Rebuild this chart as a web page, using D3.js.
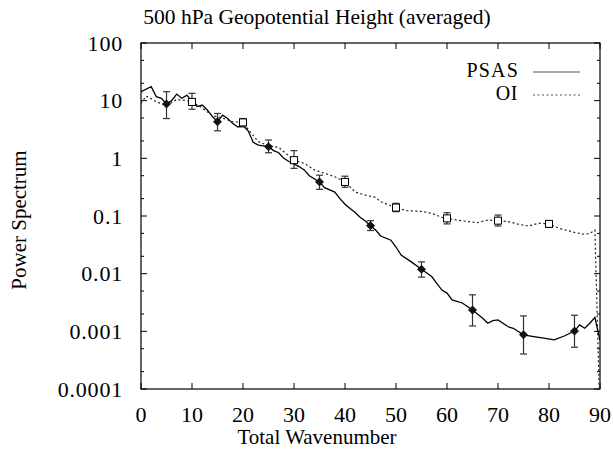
<!DOCTYPE html>
<html>
<head>
<meta charset="utf-8">
<script src="https://cdn.jsdelivr.net/npm/d3@7"></script>
<style>
  body { margin: 0; background: #fff; }
  svg { display: block; }
  text { font-family: "Liberation Serif", "Times New Roman", "DejaVu Serif", serif; fill: #000; }
</style>
</head>
<body>
<svg id="chart" width="613" height="453" font-family="Liberation Serif, Times New Roman, serif"></svg>
<script>
// PSAS spectrum (solid line)
const psasK = [0, 2, 3, 4, 5, 6, 7, 8, 9, 10, 11, 12, 13, 14, 15, 16, 17, 18, 19, 20,
  21, 22, 23, 25, 26, 27, 28, 29, 31, 32, 33, 35, 36, 38, 39, 40, 41, 42, 43, 44, 45,
  46, 47, 49, 50, 51, 53, 55, 57, 58, 59, 60, 61, 63, 64, 65, 67, 68, 69, 70, 72,
  73, 75, 77, 79, 81, 83, 85, 86, 87, 88, 89, 90];
const psasV = [14.3, 17.5, 11.7, 11, 8.75, 10, 13, 11, 12.5, 9.6, 7.9, 8.4, 6.9, 5.3, 4.3, 5.6, 4.9, 4.0, 3.5, 3.7,
  3.0, 1.9, 1.7, 1.59, 1.36, 1.25, 1.0, 0.88, 0.72, 0.63, 0.5, 0.39, 0.31, 0.26, 0.2, 0.16, 0.135, 0.115, 0.094, 0.082, 0.068,
  0.057, 0.045, 0.038, 0.029, 0.021, 0.016, 0.0119, 0.0089, 0.0068, 0.0052, 0.0046, 0.0035, 0.0031, 0.0027, 0.00234, 0.00168, 0.00138, 0.00153, 0.00158, 0.0012,
  0.00113, 0.00087, 0.00081, 0.00076, 0.00071, 0.00083, 0.00101, 0.00129, 0.00113, 0.00138, 0.00175, 0.0007];

// OI spectrum (dotted line)
const oiK = [0, 1, 3, 5, 7, 9, 10, 12, 14, 16, 18, 20, 21, 23, 25, 27, 29, 30, 32, 34,
  36, 38, 40, 42, 44, 46, 47, 50, 52, 55, 57, 59, 60, 62, 64, 66, 68, 70, 72, 74,
  76, 78, 80, 82, 85, 87, 88, 89, 90];
const oiV = [9.0, 12, 9.6, 8.2, 10.5, 10, 9.5, 7.5, 5.5, 5.0, 4.3, 4.2, 3.2, 1.95, 1.65, 1.55, 1.1, 0.93, 0.82, 0.63,
  0.55, 0.48, 0.39, 0.26, 0.23, 0.21, 0.177, 0.14, 0.124, 0.12, 0.111, 0.095, 0.091, 0.085, 0.08, 0.077, 0.085, 0.083, 0.08, 0.072,
  0.067, 0.075, 0.073, 0.061, 0.052, 0.048, 0.05, 0.057, 0.00003];

// error bars: wavenumber, centre, low, high
const psasErrK = [5, 15, 25, 35, 45, 55, 65, 75, 85];
const psasErrMid = [8.75, 4.3, 1.59, 0.39, 0.068, 0.0119, 0.00234, 0.00087, 0.00101];
const psasErrLo = [4.9, 3.0, 1.25, 0.29, 0.056, 0.0087, 0.00124, 0.000405, 0.00053];
const psasErrHi = [14.3, 6.0, 2.08, 0.51, 0.083, 0.016, 0.0043, 0.00185, 0.0019];

const oiErrK = [10, 20, 30, 40, 50, 60, 70, 80];
const oiErrMid = [9.5, 4.2, 0.93, 0.39, 0.14, 0.091, 0.083, 0.073];
const oiErrLo = [7.1, 3.5, 0.67, 0.315, 0.119, 0.073, 0.067, 0.064];
const oiErrHi = [13.4, 4.9, 1.36, 0.49, 0.166, 0.114, 0.104, 0.079];

const xTicks = [0, 10, 20, 30, 40, 50, 60, 70, 80, 90];
const yTicks = [0.0001, 0.001, 0.01, 0.1, 1, 10, 100];
const yTickLabels = ["0.0001", "0.001", "0.01", "0.1", "1", "10", "100"];

// layout
const plotL = 141, plotR = 600, plotT = 43, plotB = 389;

const svg = d3.select("#chart");

const x = d3.scaleLinear().domain([0, 90]).range([plotL, plotR]);
const y = d3.scaleLog().domain([0.0001, 100]).range([plotB, plotT]);

// minor ticks at 2 and 5 of each decade
const minor = [];
yTicks.slice(0, -1).forEach(t => { minor.push(t * 2); minor.push(t * 5); });

svg.append("defs").append("clipPath").attr("id", "clip")
  .append("rect").attr("x", plotL).attr("y", plotT).attr("width", plotR - plotL).attr("height", plotB - plotT);

// frame
svg.append("rect")
  .attr("x", plotL).attr("y", plotT)
  .attr("width", plotR - plotL).attr("height", plotB - plotT)
  .attr("fill", "none").attr("stroke", "#000").attr("stroke-width", 1.2);

// ticks, inward on all sides
const tickG = svg.append("g").attr("stroke", "#000").attr("stroke-width", 1);
xTicks.forEach(t => {
  tickG.append("line").attr("x1", x(t)).attr("x2", x(t)).attr("y1", plotB).attr("y2", plotB - 6);
  tickG.append("line").attr("x1", x(t)).attr("x2", x(t)).attr("y1", plotT).attr("y2", plotT + 6);
});
yTicks.forEach(t => {
  tickG.append("line").attr("x1", plotL).attr("x2", plotL + 6).attr("y1", y(t)).attr("y2", y(t));
  tickG.append("line").attr("x1", plotR).attr("x2", plotR - 6).attr("y1", y(t)).attr("y2", y(t));
});
minor.forEach(t => {
  tickG.append("line").attr("x1", plotL).attr("x2", plotL + 3).attr("y1", y(t)).attr("y2", y(t));
  tickG.append("line").attr("x1", plotR).attr("x2", plotR - 3).attr("y1", y(t)).attr("y2", y(t));
});

// tick labels
svg.append("g").selectAll("text")
  .data(xTicks)
  .enter()
  .append("text")
  .attr("x", d => x(d))
  .attr("y", 422)
  .attr("text-anchor", "middle")
  .style("font-size", "22px")
  .text(d => d);

svg.append("g").selectAll("text")
  .data(yTicks)
  .enter()
  .append("text")
  .attr("x", 123)
  .attr("y", d => y(d) + 7.5)
  .attr("text-anchor", "end")
  .style("font-size", "22px")
  .style("letter-spacing", "0.8px")
  .text((d, i) => yTickLabels[i]);

// titles
svg.append("text")
  .attr("x", 317).attr("y", 24)
  .attr("text-anchor", "middle")
  .style("font-size", "21.5px")
  .text("500 hPa Geopotential Height (averaged)");

svg.append("text")
  .attr("x", 317).attr("y", 444)
  .attr("text-anchor", "middle")
  .style("font-size", "21px")
  .text("Total Wavenumber");

svg.append("text")
  .attr("transform", "translate(26,220) rotate(-90)")
  .attr("text-anchor", "middle")
  .style("font-size", "21px")
  .text("Power Spectrum");

// curves
const line = d3.line().x(d => x(d[0])).y(d => y(d[1]));
const plot = svg.append("g").attr("clip-path", "url(#clip)");

plot.append("path")
  .datum(oiK.map((k, i) => [k, oiV[i]]))
  .attr("d", line)
  .attr("fill", "none")
  .attr("stroke", "#222")
  .attr("stroke-width", 1.2)
  .attr("stroke-dasharray", "2,2.5");

plot.append("path")
  .datum(psasK.map((k, i) => [k, psasV[i]]))
  .attr("d", line)
  .attr("fill", "none")
  .attr("stroke", "#000")
  .attr("stroke-width", 1.3);

// error bars
function errorBars(ks, lo, hi, colour) {
  const g = plot.append("g").attr("stroke", colour).attr("stroke-width", 1.2);
  ks.forEach((k, i) => {
    g.append("line").attr("x1", x(k)).attr("x2", x(k)).attr("y1", y(lo[i])).attr("y2", y(hi[i]));
    g.append("line").attr("x1", x(k) - 3.5).attr("x2", x(k) + 3.5).attr("y1", y(lo[i])).attr("y2", y(lo[i]));
    g.append("line").attr("x1", x(k) - 3.5).attr("x2", x(k) + 3.5).attr("y1", y(hi[i])).attr("y2", y(hi[i]));
  });
}
errorBars(psasErrK, psasErrLo, psasErrHi, "#333");
errorBars(oiErrK, oiErrLo, oiErrHi, "#333");

// PSAS markers: small filled diamonds
plot.selectAll(".psas-mark")
  .data(psasErrK)
  .enter()
  .append("path")
  .attr("class", "psas-mark")
  .attr("transform", (d, i) => `translate(${x(d)},${y(psasErrMid[i])})`)
  .attr("d", "M0,-4L4,0L0,4L-4,0Z")
  .attr("fill", "#111")
  .attr("stroke", "#000")
  .attr("stroke-width", 0.8);

// OI markers: open squares
plot.selectAll(".oi-mark")
  .data(oiErrK)
  .enter()
  .append("rect")
  .attr("class", "oi-mark")
  .attr("x", d => x(d) - 3.5)
  .attr("y", (d, i) => y(oiErrMid[i]) - 3.5)
  .attr("width", 7)
  .attr("height", 7)
  .attr("fill", "#fff")
  .attr("stroke", "#000")
  .attr("stroke-width", 1);

// legend
const legend = svg.append("g");
legend.append("text").attr("x", 519).attr("y", 77).attr("text-anchor", "end")
  .style("font-size", "20px").style("letter-spacing", "1.2px").text("PSAS");
legend.append("text").attr("x", 518).attr("y", 100).attr("text-anchor", "end")
  .style("font-size", "20px").style("letter-spacing", "0.6px").text("OI");
legend.append("line").attr("x1", 533).attr("x2", 580).attr("y1", 72).attr("y2", 72)
  .attr("stroke", "#555").attr("stroke-width", 1.2);
legend.append("line").attr("x1", 533).attr("x2", 580).attr("y1", 95).attr("y2", 95)
  .attr("stroke", "#555").attr("stroke-width", 1.2).attr("stroke-dasharray", "2,2.5");
</script>
</body>
</html>
